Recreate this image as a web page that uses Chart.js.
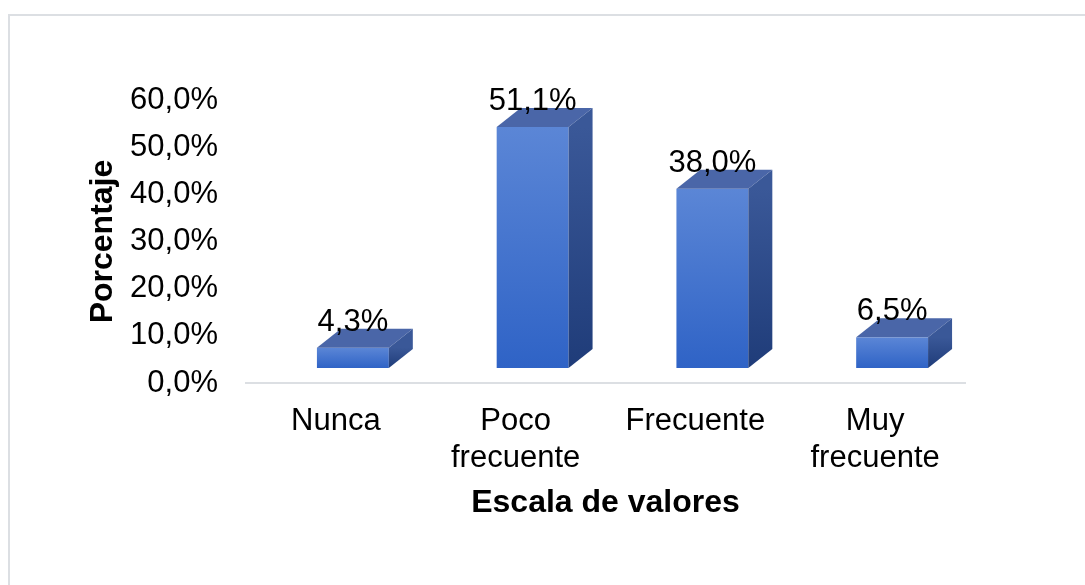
<!DOCTYPE html>
<html>
<head>
<meta charset="utf-8">
<script src="https://cdn.jsdelivr.net/npm/chart.js@4"></script>
<style>
  html, body { margin: 0; padding: 0; background: #fff; }
  #wrap { width: 1085px; height: 585px; }
</style>
</head>
<body>
<div id="wrap"><canvas id="grafico"></canvas></div>
<script>
var categorias = [["Nunca"], ["Poco", "frecuente"], ["Frecuente"], ["Muy", "frecuente"]];
var porcentajes = [4.3, 51.1, 38.0, 6.5];
var etiquetas = ["4,3%", "51,1%", "38,0%", "6,5%"];

var fuente = "'Liberation Sans', Arial, sans-serif";

function coma(v) {
  return v.toFixed(1).replace(".", ",") + "%";
}

// borde del grafico (solo se ve arriba y a la izquierda)
var marco = {
  id: "marco",
  beforeDraw: function (chart) {
    var ctx = chart.ctx;
    ctx.save();
    ctx.fillStyle = "#fff";
    ctx.fillRect(0, 0, chart.width, chart.height);
    ctx.strokeStyle = "#dcdfe3";
    ctx.lineWidth = 2;
    ctx.strokeRect(9, 15, 1100, 620);
    ctx.restore();
  }
};

// barras con efecto 3D
var barras3d = {
  id: "barras3d",
  afterDatasetsDraw: function (chart) {
    var ctx = chart.ctx;
    var meta = chart.getDatasetMeta(0);
    var dx = 24, dy = -19, sx = 17, sy = -15;
    ctx.save();
    meta.data.forEach(function (el, i) {
      var p = el.getProps(["x", "y", "base", "width"], true);
      var left = p.x - p.width / 2 + sx;
      var right = left + p.width;
      var top = p.y + sy;
      var bottom = p.base + sy;

      // frente
      var g = ctx.createLinearGradient(0, top, 0, bottom);
      g.addColorStop(0, "#5b86d6");
      g.addColorStop(1, "#2f63c6");
      ctx.fillStyle = g;
      ctx.fillRect(left, top, p.width, bottom - top);

      // tapa
      ctx.fillStyle = "#4a66a8";
      ctx.beginPath();
      ctx.moveTo(left, top);
      ctx.lineTo(left + dx, top + dy);
      ctx.lineTo(right + dx, top + dy);
      ctx.lineTo(right, top);
      ctx.closePath();
      ctx.fill();

      // lado
      var g2 = ctx.createLinearGradient(0, top, 0, bottom);
      g2.addColorStop(0, "#3a5898");
      g2.addColorStop(1, "#1f3c79");
      ctx.fillStyle = g2;
      ctx.beginPath();
      ctx.moveTo(right, top);
      ctx.lineTo(right + dx, top + dy);
      ctx.lineTo(right + dx, bottom + dy);
      ctx.lineTo(right, bottom);
      ctx.closePath();
      ctx.fill();

      // etiqueta de datos
      ctx.fillStyle = "#000";
      ctx.font = "31px " + fuente;
      ctx.textAlign = "center";
      ctx.textBaseline = "alphabetic";
      ctx.fillText(etiquetas[i], left + p.width / 2, top + dy + 2);
    });
    ctx.restore();
  }
};

new Chart("grafico", {
  type: "bar",
  data: {
    labels: categorias,
    datasets: [
      {
        data: porcentajes,
        backgroundColor: "rgba(0,0,0,0)",
        borderWidth: 0,
        categoryPercentage: 1,
        barPercentage: 0.4,
      },
    ],
  },
  options: {
    responsive: true,
    maintainAspectRatio: false,
    animation: false,
    events: [],
    layout: {
      padding: { top: 100, right: 120, bottom: 0, left: 0 },
    },
    plugins: {
      legend: { display: false },
      tooltip: { enabled: false },
    },
    scales: {
      x: {
        grid: { display: false, drawTicks: false },
        border: { display: true, color: "#dcdfe3", width: 2 },
        ticks: {
          color: "#000",
          padding: 20,
          maxRotation: 0,
          font: { family: fuente, size: 31, lineHeight: 1.19 },
        },
        title: {
          display: true,
          text: "Escala de valores",
          color: "#000",
          padding: { top: 0, bottom: 63 },
          font: { family: fuente, size: 32, weight: "bold" },
        },
        afterFit: function (s) { s.height = 202; },
      },
      y: {
        min: 0,
        max: 60,
        grid: { display: false, drawTicks: false },
        border: { display: false },
        ticks: {
          stepSize: 10,
          color: "#000",
          padding: 28,
          font: { family: fuente, size: 31 },
          callback: function (v) { return coma(v); },
        },
        title: {
          display: true,
          text: "Porcentaje",
          color: "#000",
          padding: { top: 84, bottom: 0 },
          font: { family: fuente, size: 32, weight: "bold" },
        },
        afterFit: function (s) { s.width = 246; },
      },
    },
  },
  plugins: [marco, barras3d],
});
</script>
</body>
</html>
